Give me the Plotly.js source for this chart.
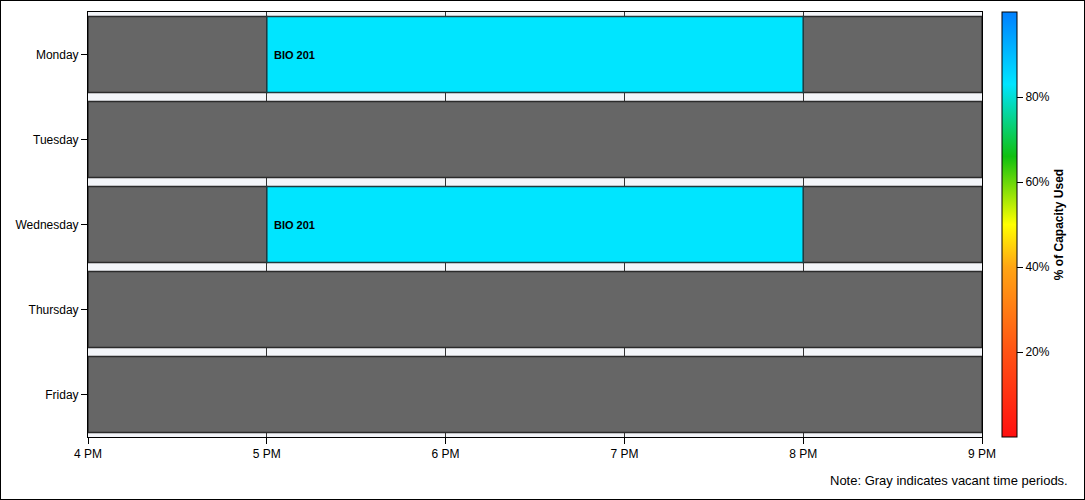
<!DOCTYPE html>
<html>
<head>
<meta charset="utf-8">
<script src="https://cdn.plot.ly/plotly-3.0.1.min.js"></script>
<style>
html, body { margin: 0; padding: 0; background: #fff; }
#chart { width: 1085px; height: 500px; box-sizing: border-box; border: 1px solid #000; }
</style>
</head>
<body>
<div id="chart"></div>
<script>
const days = ['Monday', 'Tuesday', 'Wednesday', 'Thursday', 'Friday'];
const hourTicks = [16, 17, 18, 19, 20, 21];
const hourLabels = ['4 PM', '5 PM', '6 PM', '7 PM', '8 PM', '9 PM'];

const vacantDay = ['Monday', 'Monday', 'Tuesday', 'Wednesday', 'Wednesday', 'Thursday', 'Friday'];
const vacantStart = [16, 20, 16, 16, 20, 16, 16];
const vacantEnd = [17, 21, 21, 17, 21, 21, 21];

const classDay = ['Monday', 'Wednesday'];
const classStart = [17, 17];
const classEnd = [20, 20];
const classLabel = ['BIO 201', 'BIO 201'];
const classCapacity = [83, 83];

const capacityTicks = [20, 40, 60, 80];
const capacityLabels = ['20%', '40%', '60%', '80%'];
const noteText = 'Note: Gray indicates vacant time periods.';

const FONT = 'Arial, "Liberation Sans", sans-serif';

const colorscale = [
  [0.0, '#ff1010'],
  [0.2, '#ff5214'],
  [0.4, '#ffa514'],
  [0.5, '#ffff00'],
  [0.66, '#10c010'],
  [0.83, '#00e5ff'],
  [1.0, '#0080ff']
];

const vacantTrace = {
  type: 'bar',
  orientation: 'h',
  y: vacantDay,
  base: vacantStart,
  x: vacantEnd.map((e, i) => e - vacantStart[i]),
  marker: { color: '#666666', line: { color: '#2b2b2b', width: 1.5 } },
  hoverinfo: 'skip',
  showlegend: false
};

const classTrace = {
  type: 'bar',
  orientation: 'h',
  y: classDay,
  base: classStart,
  x: classEnd.map((e, i) => e - classStart[i]),
  marker: {
    color: classCapacity,
    colorscale: colorscale,
    cmin: 0,
    cmax: 100,
    showscale: true,
    line: { color: '#1f3b3f', width: 1.5 },
    colorbar: {
      x: 1.0224,
      xanchor: 'left',
      xpad: 0,
      y: 0.5,
      yanchor: 'middle',
      ypad: 0,
      len: 1,
      lenmode: 'fraction',
      thickness: 15,
      outlinecolor: '#000',
      outlinewidth: 1,
      tickmode: 'array',
      tickvals: capacityTicks,
      ticktext: capacityLabels,
      ticks: 'outside',
      ticklen: 6,
      tickcolor: '#000',
      tickfont: { family: FONT, size: 12, color: '#000' },
      title: { text: '<b>% of Capacity Used</b>', side: 'right', font: { family: FONT, size: 12, color: '#000' } }
    }
  },
  hoverinfo: 'skip',
  showlegend: false
};

const annotations = classDay.map((d, i) => ({
  x: classStart[i],
  y: d,
  xref: 'x',
  yref: 'y',
  text: '<b>' + classLabel[i] + '</b>',
  showarrow: false,
  xanchor: 'left',
  yanchor: 'middle',
  xshift: 5,
  font: { family: FONT, size: 11, color: '#000' }
}));

annotations.push({
  xref: 'paper',
  yref: 'paper',
  x: 1.0984,
  y: -0.1035,
  xanchor: 'right',
  yanchor: 'middle',
  text: noteText,
  showarrow: false,
  font: { family: FONT, size: 13, color: '#000' }
});

const layout = {
  width: 1083,
  height: 498,
  margin: { l: 87, r: 102, t: 11, b: 62, pad: 0 },
  paper_bgcolor: '#ffffff',
  plot_bgcolor: '#f3f5f9',
  barmode: 'overlay',
  bargap: 0.105,
  font: { family: FONT, size: 12, color: '#000' },
  xaxis: {
    range: [16, 21],
    tickvals: hourTicks,
    ticktext: hourLabels,
    ticks: 'outside',
    ticklen: 6,
    tickcolor: '#000',
    showline: true,
    linecolor: '#000',
    linewidth: 1,
    mirror: true,
    showgrid: true,
    gridcolor: '#333333',
    gridwidth: 1,
    zeroline: false,
    tickfont: { family: FONT, size: 12, color: '#000' }
  },
  yaxis: {
    type: 'category',
    categoryorder: 'array',
    categoryarray: days,
    autorange: 'reversed',
    ticks: 'outside',
    ticklen: 6,
    tickcolor: '#000',
    showline: true,
    linecolor: '#000',
    linewidth: 1,
    mirror: true,
    showgrid: false,
    zeroline: false,
    tickfont: { family: FONT, size: 12, color: '#000' }
  },
  annotations: annotations
};

Plotly.newPlot('chart', [vacantTrace, classTrace], layout, { displayModeBar: false, staticPlot: true });
</script>
</body>
</html>
